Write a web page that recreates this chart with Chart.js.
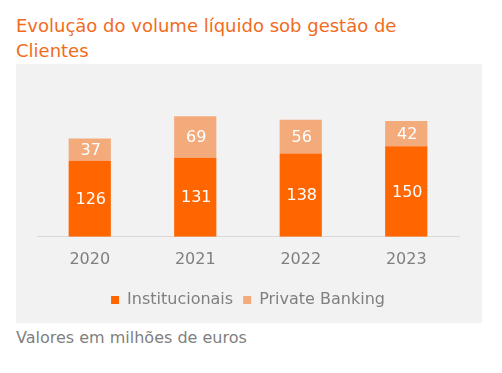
<!DOCTYPE html>
<html>
<head>
<meta charset="utf-8">
<script src="https://cdn.jsdelivr.net/npm/chart.js@4"></script>
<style>
  body { margin: 0; background: #fff; font-family: 'DejaVu Sans', sans-serif; }
  .title { position: absolute; left: 16px; top: 13px; color: #F26B1D; font-size: 18px; line-height: 25px; }
  .panel { position: absolute; left: 16px; top: 64px; width: 466px; height: 259px; background: #F2F2F2; }
  .note { position: absolute; left: 16px; top: 328px; color: #7F7F7F; font-size: 16px; }
</style>
</head>
<body>
<div class="title">Evolução do volume líquido sob gestão de<br>Clientes</div>
<div class="panel"><canvas id="volChart" width="466" height="259"></canvas></div>
<div class="note">Valores em milhões de euros</div>
<script>
const years = ['2020', '2021', '2022', '2023'];
const institucionais = [126, 131, 138, 150];
const privateBanking = [37, 69, 56, 42];

const barLabels = {
  id: 'barLabels',
  afterDatasetsDraw(chart) {
    const ctx = chart.ctx;
    ctx.save();
    ctx.fillStyle = '#ffffff';
    ctx.font = '16px "DejaVu Sans"';
    ctx.textAlign = 'center';
    ctx.textBaseline = 'middle';
    chart.data.datasets.forEach((ds, i) => {
      chart.getDatasetMeta(i).data.forEach((bar, j) => {
        const p = bar.getCenterPoint();
        ctx.fillText(ds.data[j], p.x + 1, p.y + 1);
      });
    });
    ctx.restore();
  }
};

new Chart(document.getElementById('volChart'), {
  type: 'bar',
  data: {
    labels: years,
    datasets: [
      { label: 'Institucionais', data: institucionais, backgroundColor: '#FF6600' },
      { label: 'Private Banking', data: privateBanking, backgroundColor: '#F4AB7C' }
    ]
  },
  options: {
    responsive: false,
    animation: false,
    devicePixelRatio: 1,
    layout: { padding: { left: 21, right: 23, top: 22, bottom: 5 } },
    categoryPercentage: 1,
    barPercentage: 0.4,
    plugins: {
      tooltip: { enabled: false },
      legend: {
        position: 'bottom',
        labels: {
          boxWidth: 8,
          boxHeight: 8,
          padding: 10,
          color: '#7F7F7F',
          font: { family: 'DejaVu Sans', size: 16 }
        }
      }
    },
    scales: {
      x: {
        stacked: true,
        grid: { display: true, drawOnChartArea: false, drawTicks: false },
        border: { color: '#D9D9D9', width: 1 },
        ticks: { color: '#7F7F7F', padding: 13, font: { family: 'DejaVu Sans', size: 16 } }
      },
      y: { stacked: true, display: false, min: 0, max: 250 }
    }
  },
  plugins: [barLabels]
});
</script>
</body>
</html>
